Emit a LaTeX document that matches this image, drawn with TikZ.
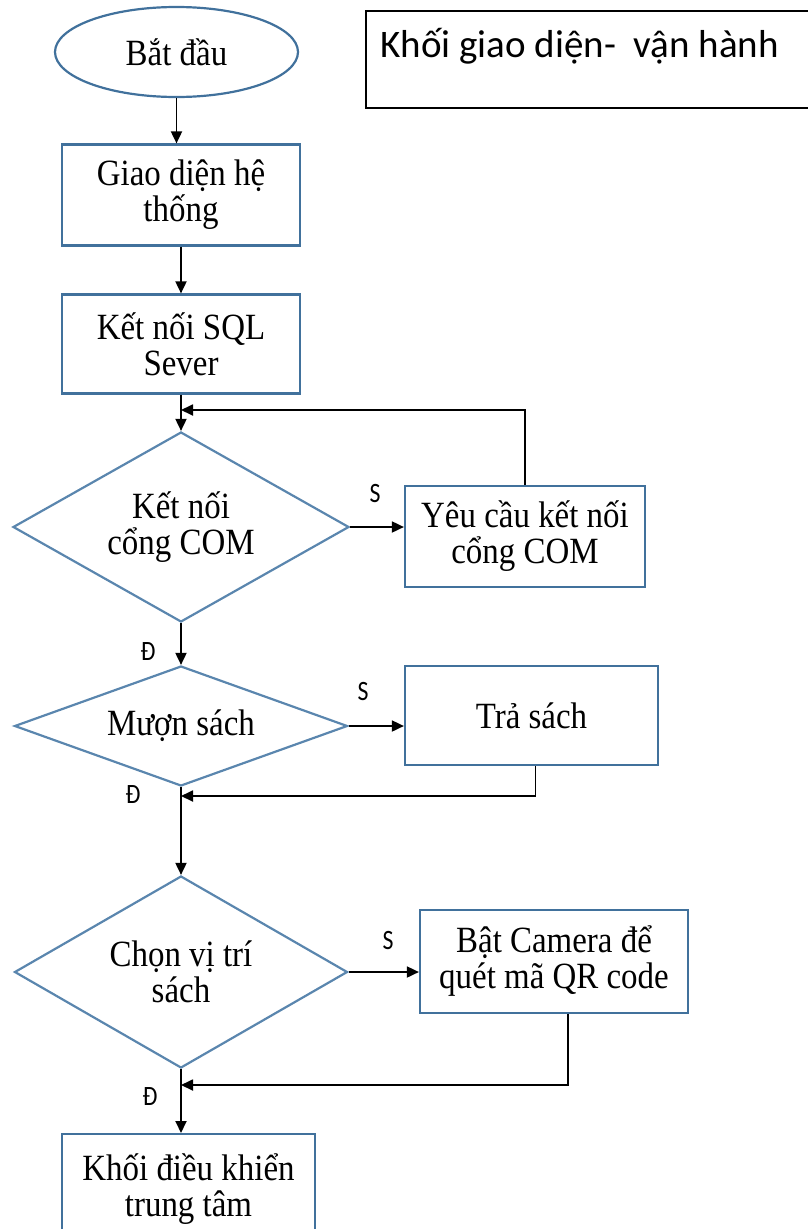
\documentclass[tikz,border=0pt]{standalone}
\usepackage{fontspec}
\setmainfont{Liberation Serif}[FakeStretch=0.89]
\newfontfamily\labelfont{Carlito}
\newfontfamily\narrowlabelfont{Carlito}[FakeStretch=0.85]
\usetikzlibrary{shapes.geometric,arrows.meta}
\definecolor{boxblue}{HTML}{41719C}
\definecolor{diablue}{HTML}{5A86AE}
\begin{document}
\begin{tikzpicture}[x=1pt,y=-1pt,
  every node/.style={font=\fontsize{37}{36}\selectfont, align=center},
  procbox/.style={draw=boxblue, line width=2.2pt, rectangle, inner sep=0pt},
  decision/.style={draw=diablue, line width=2.2pt, diamond, inner sep=0pt},
  terminal/.style={draw=boxblue, line width=2.2pt, ellipse, inner sep=0pt},
  flow/.style={line width=1.8pt, -{Triangle[length=12pt,width=11pt]}},
  tag/.style={font=\narrowlabelfont\fontsize{28}{28}\selectfont}
]
\clip (0,0) rectangle (808,1229);

% title frame
\node[draw=black, line width=1.8pt, rectangle, anchor=north west,
      minimum width=480pt, minimum height=97pt] (title) at (365,10) {};
\node[anchor=west, font=\labelfont\fontsize{39}{42}\selectfont] (titletext)
      at (377,46) {Khối giao diện-~ vận hành};

% main flow
\node[terminal, minimum width=243pt, minimum height=90pt] (start) at (176.5,52) {Bắt đầu};
\node[procbox, minimum width=238pt, minimum height=101pt] (gui) at (181,195) {Giao diện hệ\\thống};
\node[procbox, minimum width=238pt, minimum height=99pt] (sql) at (181,344) {Kết nối SQL\\Sever};
\node[decision, shape aspect=1.77, minimum width=336pt, minimum height=190pt] (com) at (181,527) {Kết nối\\cổng COM};
\node[procbox, minimum width=240pt, minimum height=101pt] (req) at (525,536.5) {Yêu cầu kết nối\\cổng COM};
\node[decision, shape aspect=2.78, minimum width=333pt, minimum height=120pt] (borrow) at (181,726) {Mượn sách};
\node[procbox, minimum width=253pt, minimum height=99pt] (ret) at (531.5,715.5) {Trả sách};
\node[decision, shape aspect=1.73, minimum width=333pt, minimum height=192pt] (pick) at (181,972) {Chọn vị trí\\sách};
\node[procbox, minimum width=268pt, minimum height=103pt] (cam) at (554,961.5) {Bật Camera để\\quét mã QR code};
\node[procbox, anchor=north, minimum width=253pt, minimum height=110pt] (ctrl) at (188.5,1133) {Khối điều khiển\\trung tâm};

% junction points on the main line
\coordinate (j1) at (181,410);
\coordinate (j2) at (181,796);
\coordinate (j3) at (181,1085);

% connectors
\draw[flow] (start.south) -- (start.south |- gui.north);
\draw[flow] (gui.south) -- (sql.north);
\draw[flow] (sql.south) -- (com.north);
\draw[flow] (com.east) -- (com.east -| req.west);
\draw[flow] (req.north) |- (j1);
\draw[flow] (com.south) -- (borrow.north);
\draw[flow] (borrow.east) -- (borrow.east -| ret.west);
\draw[flow] ([xshift=4pt]ret.south) |- (j2);
\draw[flow] (borrow.south) -- (pick.north);
\draw[flow] (pick.east) -- (pick.east -| cam.west);
\draw[flow] ([xshift=14pt]cam.south) |- (j3);
\draw[flow] (pick.south) -- (pick.south |- ctrl.north);

% branch labels
\node[tag] (s1) at (375,494) {S};
\node[tag] (s2) at (363,692) {S};
\node[tag] (s3) at (388,940) {S};
\node[tag] (d1) at (148,652) {Đ};
\node[tag] (d2) at (133,795) {Đ};
\node[tag] (d3) at (150,1097) {Đ};
\end{tikzpicture}
\end{document}
